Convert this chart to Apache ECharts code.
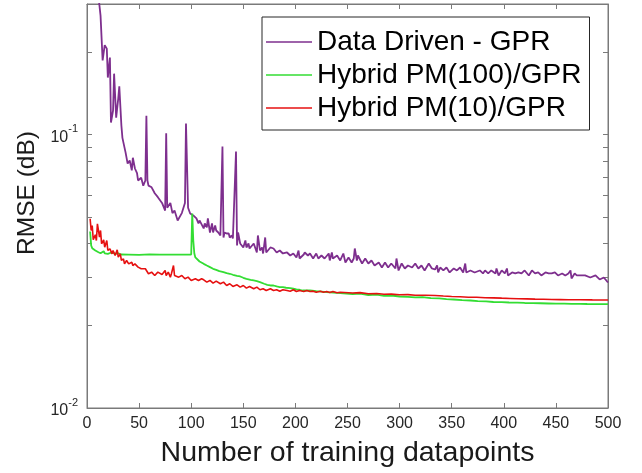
<!DOCTYPE html>
<html>
<head>
<meta charset="utf-8">
<script src="https://cdn.jsdelivr.net/npm/echarts@6/dist/echarts.min.js"></script>
<style>html,body{margin:0;padding:0;background:#fff;}#c{width:642px;height:473px;}</style>
</head>
<body>
<div id="c"></div>
<script>
// ---- data ----
var xTickLabels = [0, 50, 100, 150, 200, 250, 300, 350, 400, 450, 500];
var yLabelValues = [0.01, 0.1];
var yTickValues = [0.01, 0.02, 0.03, 0.04, 0.05, 0.06, 0.07, 0.08, 0.09, 0.1, 0.2];
var seriesNames = ['Data Driven - GPR', 'Hybrid PM(100)/GPR', 'Hybrid PM(10)/GPR'];

var purpleX = [8, 12, 13, 14, 15, 17, 19, 20, 22, 23, 25, 26, 28, 30, 31, 33, 34, 36, 37, 39, 41, 43, 44, 46, 48, 49,
  52, 54, 56, 57, 58, 59, 62, 65, 68, 72, 75, 76, 77, 80, 82, 84, 87, 91, 94, 95, 97, 99,
  102, 105, 107, 108, 112, 113, 115, 116, 118, 120, 121, 123, 124, 126, 128, 130, 131, 132, 134, 136, 137, 139, 140,
  143, 144, 145, 147, 148, 150, 152, 153, 155, 156, 160, 163, 164, 166, 168, 169, 171, 172, 176, 179, 182, 185, 188,
  192, 195, 198, 201, 203, 204, 208, 209, 212, 214, 217, 220, 222, 225, 228, 232, 233, 235, 236, 240, 243, 246, 248,
  251, 254, 256, 257, 259, 260, 264, 267, 270, 273, 276, 280, 283, 286, 289, 292, 296, 297, 299, 302, 305, 308, 312,
  315, 318, 321, 324, 328, 331, 334, 336, 337, 339, 342, 345, 348, 352, 355, 358, 361, 363, 364, 368, 372, 377, 380,
  382, 385, 388, 392, 393, 395, 398, 401, 403, 404, 408, 411, 414, 417, 420, 424, 427, 430, 433, 436, 440, 443, 446,
  449, 452, 456, 459, 462, 464, 465, 468, 470, 473, 478, 483, 488, 492, 496, 500];
var purpleY = [0.40, 0.295, 0.272, 0.270, 0.1865, 0.212, 0.206, 0.1615, 0.191, 0.1106, 0.1224, 0.1669, 0.1153, 0.1357, 0.150, 0.1079, 0.0972, 0.0895, 0.0860, 0.0783, 0.0803, 0.0739, 0.0822, 0.0751, 0.0722, 0.0679,
  0.0695, 0.0650, 0.0679, 0.1171, 0.0679, 0.0650, 0.0641, 0.0610, 0.0590, 0.0562, 0.0527, 0.1010, 0.0540, 0.0562, 0.0516, 0.0527, 0.0485, 0.0516, 0.0562, 0.1097, 0.0540, 0.05145,
  0.0506, 0.04933, 0.04729, 0.0485, 0.04534, 0.04729, 0.04572, 0.04933, 0.04382, 0.04729, 0.04382, 0.0465, 0.04457, 0.04382, 0.04273, 0.0904, 0.04202, 0.04382, 0.04346, 0.04346, 0.04202, 0.04273, 0.04167,
  0.0867, 0.03928, 0.04382, 0.03995, 0.04029, 0.03863, 0.04097, 0.03863, 0.03995, 0.0383, 0.03995, 0.03703, 0.04273, 0.03766, 0.03863, 0.03672, 0.04202, 0.03703, 0.03863, 0.0383, 0.03703, 0.03766, 0.03672,
  0.03703, 0.03611, 0.03672, 0.03551, 0.03766, 0.03521, 0.03641, 0.03703, 0.03611, 0.03672, 0.03521, 0.03672, 0.03521, 0.03611, 0.03521, 0.03672, 0.03462, 0.03703, 0.03521, 0.03611, 0.03462, 0.03672, 0.03404,
  0.03551, 0.03404, 0.03521, 0.0383, 0.03462, 0.03611, 0.03376, 0.03521, 0.03376, 0.03462, 0.03319, 0.03404, 0.03264, 0.03404, 0.03264, 0.03376, 0.03237, 0.03521, 0.03183, 0.03376, 0.03237, 0.03319, 0.03264,
  0.03376, 0.03237, 0.03319, 0.03183, 0.03376, 0.03237, 0.03209, 0.03319, 0.0313, 0.03264, 0.03183, 0.03264, 0.0313, 0.03237, 0.03183, 0.03264, 0.0313, 0.03376, 0.0313, 0.03183, 0.0313, 0.03183, 0.03104,
  0.03183, 0.03104, 0.03183, 0.03104, 0.03237, 0.03052, 0.03183, 0.03104, 0.03237, 0.03052, 0.0313, 0.03104, 0.0313, 0.03104, 0.03183, 0.03052, 0.03183, 0.03104, 0.0313, 0.03052, 0.0313, 0.03104, 0.03104,
  0.0313, 0.03052, 0.03104, 0.03052, 0.03104, 0.03183, 0.02976, 0.03104, 0.03052, 0.03052, 0.03052, 0.03001, 0.03052, 0.02951, 0.03001, 0.02877];

var greenX = [3, 4, 5, 6, 8, 9, 11, 13, 14, 16, 17, 20, 24, 27, 30, 33, 40, 50, 60, 70, 80, 90, 100,
  101, 102, 103, 104, 105, 108, 109, 112, 115, 118, 121, 124, 127, 131, 134, 137, 140, 144, 147, 150, 153, 157, 160,
  163, 166, 170, 173, 176, 179, 182, 185, 188, 191, 195, 198, 201, 204, 207, 214, 220, 230, 243, 255, 262, 270, 278,
  285, 292, 300, 308, 315, 322, 330, 338, 345, 352, 360, 368, 375, 383, 390, 398, 405, 413, 420, 428, 435, 443, 450,
  458, 465, 473, 480, 490, 500];
var greenY = [0.0442, 0.03928, 0.0384, 0.03798, 0.03766, 0.03743, 0.0371, 0.03679, 0.0371, 0.03743, 0.03679, 0.0366, 0.0371, 0.0366, 0.03679, 0.03641, 0.0364, 0.0363, 0.03645, 0.0364, 0.03635, 0.0364, 0.0364,
  0.05145, 0.04097, 0.03672, 0.03551, 0.03521, 0.03433, 0.03418, 0.03366, 0.03319, 0.03273, 0.03228, 0.032, 0.03164, 0.03138, 0.03112, 0.03096, 0.0307, 0.03044, 0.03026, 0.02993, 0.02968, 0.02943, 0.02926,
  0.02909, 0.02885, 0.02846, 0.02822, 0.02805, 0.02805, 0.02782, 0.02766, 0.02766, 0.02752, 0.02743, 0.02729, 0.02713, 0.02706, 0.02689, 0.02689, 0.02674, 0.02651, 0.02629, 0.02611, 0.02618, 0.02589, 0.02596,
  0.02571, 0.02578, 0.02557, 0.02548, 0.0254, 0.02545, 0.0252, 0.02515, 0.025, 0.02493, 0.02479, 0.02472, 0.02458, 0.02455, 0.02441, 0.02438, 0.02431, 0.02428, 0.02421, 0.02418, 0.02415, 0.0241, 0.02406,
  0.02406, 0.02404, 0.02402, 0.024, 0.02399, 0.02398];

var redX = [3, 4, 5, 6, 8, 9, 10, 12, 13, 14, 16, 17, 19, 20, 22, 24, 25, 27, 29, 30, 32, 33, 35, 36, 38, 40, 43, 44, 46, 49,
  52, 56, 59, 62, 65, 68, 72, 75, 76, 78, 80, 81, 83, 84, 88, 91, 94, 97, 100, 104, 107, 110, 112, 115, 118, 121, 124,
  128, 131, 134, 137, 140, 144, 147, 150, 153, 156, 160, 163, 166, 169, 172, 176, 179, 182, 185, 188, 192, 195, 198,
  201, 204, 208, 211, 214, 217, 220, 224, 227, 230, 233, 236, 240, 243, 255, 262, 270, 278, 285, 292, 300, 308, 315,
  325, 334, 342, 350, 358, 366, 374, 382, 390, 398, 406, 414, 422, 430, 438, 446, 454, 462, 473, 485, 500];
var redY = [0.0492, 0.04457, 0.0465, 0.04122, 0.043, 0.04097, 0.04716, 0.04211, 0.04457, 0.03985, 0.0412, 0.03873, 0.04097, 0.03766, 0.0382, 0.0366, 0.03766, 0.03611, 0.03788, 0.0356, 0.0366, 0.03462, 0.0351, 0.03365, 0.03462, 0.03365, 0.0341, 0.03319, 0.03365, 0.03273,
  0.0323, 0.0323, 0.03096, 0.03138, 0.03052, 0.03138, 0.03078, 0.03183, 0.03052, 0.03138, 0.03009, 0.03096, 0.03319, 0.03052, 0.03009, 0.03052, 0.02968, 0.03009, 0.02926, 0.02968, 0.02926, 0.02968, 0.02943, 0.02885, 0.02926, 0.02861, 0.02909,
  0.02846, 0.02885, 0.02805, 0.02846, 0.02782, 0.02822, 0.02766, 0.02805, 0.02743, 0.02782, 0.02729, 0.02766, 0.02706, 0.02729, 0.02689, 0.02729, 0.02689, 0.02706, 0.02674, 0.02706, 0.02689, 0.02674, 0.02706,
  0.02667, 0.02689, 0.02667, 0.02689, 0.02667, 0.02674, 0.02651, 0.02674, 0.02651, 0.02667, 0.02644, 0.02667, 0.02637, 0.02651, 0.02633, 0.02641, 0.02618, 0.02622, 0.02604, 0.02609, 0.02594, 0.02597, 0.02584,
  0.02585, 0.02578, 0.02566, 0.02557, 0.02552, 0.02542, 0.02540, 0.0253, 0.02528, 0.02521, 0.02515, 0.02508, 0.02506, 0.025, 0.02497, 0.02493, 0.02491, 0.02487, 0.02487, 0.02485, 0.02483];

function pairs(xs, ys) { return xs.map(function (x, i) { return [x, ys[i]]; }); }

var axisColor = '#7a7a7a';
var textColor = '#262626';
var font = 'Liberation Sans, Arial, Helvetica, sans-serif';

function logLabel(v) {
  var e = Math.round(Math.log10(v));
  return '{b|10}{s|' + e + '}';
}

var chart = echarts.init(document.getElementById('c'), null, { renderer: 'canvas' });
chart.setOption({
  animation: false,
  backgroundColor: '#fff',
  textStyle: { fontFamily: font },
  grid: { left: 87, right: 34, top: 4, bottom: 65, show: true, borderColor: axisColor, borderWidth: 1 },
  legend: {
    data: seriesNames,
    orient: 'vertical',
    left: 262, top: 17,
    icon: 'rect',
    itemWidth: 46, itemHeight: 1.6, itemGap: 3,
    padding: [10, 8, 7, 4],
    borderColor: '#262626', borderWidth: 1, backgroundColor: '#fff',
    textStyle: { fontSize: 28, color: '#000', fontFamily: font, lineHeight: 30 },
    selectedMode: false
  },
  xAxis: [{
    type: 'value', min: 0, max: 500, interval: 50, position: 'bottom',
    axisLine: { show: true, onZero: false, lineStyle: { color: axisColor, width: 1 } },
    axisTick: { show: true, inside: true, length: 5, lineStyle: { color: axisColor } },
    axisLabel: { show: true, margin: 8, fontSize: 16, color: textColor, fontFamily: font,
      customValues: xTickLabels },
    splitLine: { show: false },
    name: 'Number of training datapoints', nameLocation: 'middle', nameGap: 31,
    nameTextStyle: { fontSize: 28.5, color: '#1a1a1a', fontFamily: font }
  }, {
    type: 'value', min: 0, max: 500, interval: 50, position: 'top',
    axisLine: { show: true, onZero: false, lineStyle: { color: axisColor, width: 1 } },
    axisTick: { show: true, inside: true, length: 5, lineStyle: { color: axisColor } },
    axisLabel: { show: false }, splitLine: { show: false }
  }],
  yAxis: [{
    type: 'log', logBase: 10, min: 0.01, max: 0.3, position: 'left',
    axisLine: { show: true, onZero: false, lineStyle: { color: axisColor, width: 1 } },
    axisTick: { show: true, inside: true, length: 5, customValues: yTickValues, lineStyle: { color: axisColor } },
    axisLabel: {
      show: true, margin: 9, customValues: yLabelValues, formatter: logLabel,
      rich: {
        b: { fontSize: 16, color: textColor, fontFamily: font, lineHeight: 22, verticalAlign: 'bottom' },
        s: { fontSize: 11, color: textColor, fontFamily: font, lineHeight: 22, verticalAlign: 'top' }
      }
    },
    splitLine: { show: false },
    name: 'RMSE (dB)', nameLocation: 'middle', nameGap: 45,
    nameTextStyle: { fontSize: 24.5, color: '#1a1a1a', fontFamily: font, padding: [0, 0, 0, 26] }
  }, {
    type: 'log', logBase: 10, min: 0.01, max: 0.3, position: 'right',
    axisLine: { show: true, onZero: false, lineStyle: { color: axisColor, width: 1 } },
    axisTick: { show: true, inside: true, length: 5, customValues: yTickValues, lineStyle: { color: axisColor } },
    axisLabel: { show: false }, splitLine: { show: false }
  }],
  series: [{
    name: seriesNames[0], type: 'line', xAxisIndex: 0, yAxisIndex: 0,
    data: pairs(purpleX, purpleY), showSymbol: false, symbol: 'none', clip: true,
    lineStyle: { color: '#7E2F8E', width: 1.8 }, itemStyle: { color: '#7E2F8E' }
  }, {
    name: seriesNames[1], type: 'line', xAxisIndex: 0, yAxisIndex: 0,
    data: pairs(greenX, greenY), showSymbol: false, symbol: 'none', clip: true,
    lineStyle: { color: '#33dd33', width: 1.8 }, itemStyle: { color: '#33dd33' }
  }, {
    name: seriesNames[2], type: 'line', xAxisIndex: 0, yAxisIndex: 0,
    data: pairs(redX, redY), showSymbol: false, symbol: 'none', clip: true,
    lineStyle: { color: '#e61010', width: 1.6 }, itemStyle: { color: '#e61010' }
  }]
});
</script>
</body>
</html>
